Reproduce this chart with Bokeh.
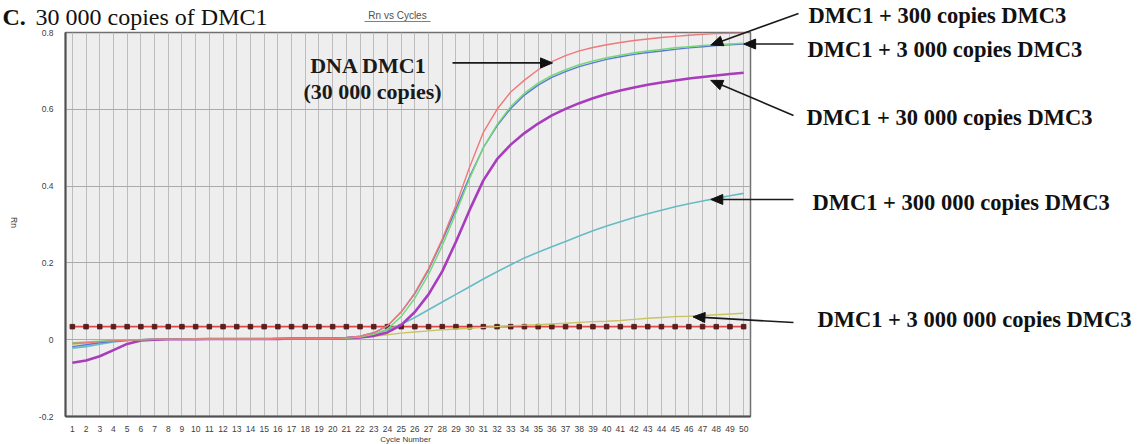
import math
import numpy as np
from bokeh.plotting import figure
from bokeh.models import FixedTicker, Range1d, CustomJSTickFormatter
from bokeh.core.properties import value
from bokeh.embed import file_html
from bokeh.resources import INLINE

# ---------------- data ----------------
cycles = list(range(1, 51))

dna_dmc1 = [-0.010, -0.008, -0.005, -0.003, -0.001, 0.000,
            0.001, 0.001, 0.001, 0.002, 0.002, 0.002, 0.002, 0.002, 0.002, 0.003, 0.003, 0.003, 0.003, 0.003,
            0.005, 0.009, 0.018, 0.036, 0.072, 0.122, 0.185, 0.262, 0.350, 0.450,
            0.540, 0.600, 0.645, 0.676, 0.703, 0.724, 0.740, 0.752, 0.761, 0.768,
            0.774, 0.779, 0.783, 0.787, 0.790, 0.793, 0.795, 0.797, 0.798, 0.799]

dmc3_300 = [-0.008, -0.006, -0.004, -0.002, -0.001, 0.000,
            0.001, 0.001, 0.001, 0.002, 0.002, 0.002, 0.002, 0.002, 0.002, 0.003, 0.003, 0.003, 0.003, 0.003,
            0.004, 0.007, 0.014, 0.028, 0.060, 0.108, 0.170, 0.245, 0.330, 0.420,
            0.500, 0.560, 0.607, 0.642, 0.668, 0.688, 0.703, 0.716, 0.726, 0.734,
            0.741, 0.747, 0.752, 0.756, 0.760, 0.763, 0.766, 0.768, 0.770, 0.772]

dmc3_3000 = [-0.018, -0.013, -0.008, -0.004, -0.002, 0.000,
             0.001, 0.001, 0.001, 0.002, 0.002, 0.002, 0.002, 0.002, 0.002, 0.003, 0.003, 0.003, 0.003, 0.003,
             0.005, 0.009, 0.018, 0.036, 0.072, 0.120, 0.182, 0.258, 0.340, 0.425,
             0.500, 0.557, 0.602, 0.637, 0.663, 0.683, 0.698, 0.711, 0.721, 0.730,
             0.737, 0.743, 0.748, 0.752, 0.756, 0.760, 0.763, 0.766, 0.768, 0.770]

dmc3_30000 = [-0.060, -0.054, -0.043, -0.027, -0.011, -0.002,
              0.000, 0.001, 0.001, 0.001, 0.002, 0.002, 0.002, 0.002, 0.002, 0.002, 0.003, 0.003, 0.003, 0.003,
              0.004, 0.006, 0.010, 0.019, 0.038, 0.072, 0.118, 0.178, 0.255, 0.338,
              0.415, 0.470, 0.508, 0.538, 0.563, 0.584, 0.601, 0.616, 0.629, 0.640,
              0.649, 0.657, 0.664, 0.670, 0.675, 0.680, 0.684, 0.688, 0.692, 0.695]

dmc3_300000 = [-0.022, -0.018, -0.012, -0.006, -0.002, 0.000,
               0.001, 0.001, 0.001, 0.002, 0.002, 0.002, 0.002, 0.002, 0.002, 0.003, 0.003, 0.003, 0.003, 0.003,
               0.004, 0.008, 0.015, 0.025, 0.040, 0.058, 0.078, 0.098, 0.118, 0.138,
               0.158, 0.177, 0.195, 0.213, 0.228, 0.242, 0.256, 0.270, 0.284, 0.296,
               0.307, 0.318, 0.328, 0.337, 0.346, 0.354, 0.361, 0.368, 0.375, 0.381]

dmc3_3000000 = [-0.012, -0.009, -0.006, -0.003, -0.001, 0.000,
                0.000, 0.001, 0.001, 0.001, 0.002, 0.002, 0.002, 0.002, 0.002, 0.002, 0.003, 0.003, 0.003, 0.003,
                0.004, 0.006, 0.009, 0.013, 0.017, 0.020, 0.023, 0.026, 0.028, 0.030,
                0.032, 0.034, 0.036, 0.038, 0.039, 0.041, 0.043, 0.045, 0.047, 0.048,
                0.050, 0.053, 0.056, 0.058, 0.060, 0.061, 0.063, 0.065, 0.067, 0.069]

threshold = 0.034

y_ticks = [-0.2, 0.0, 0.2, 0.4, 0.6, 0.8]

title_text = "Rn vs Cycles"
x_title = "Cycle Number"
y_title = "Rn"
panel_letter = "C."
panel_text = "30 000 copies of DMC1"
dna_label = ["DNA DMC1", "(30 000 copies)"]
mix_labels = ["DMC1 + 300 copies DMC3", "DMC1 + 3 000 copies DMC3",
              "DMC1 + 30 000 copies DMC3", "DMC1 + 300 000 copies DMC3",
              "DMC1 + 3 000 000 copies DMC3"]

# ---------------- figure ----------------
W, H = 1138, 444
FL, FT, FR, FB = 65, 32, 750, 416   # frame edges in canvas pixels
p = figure(width=W, height=H, output_backend="svg", toolbar_location=None,
           x_range=Range1d(0.5, 50.5), y_range=Range1d(-0.2, 0.8),
           min_border_left=FL, min_border_right=W - FR, min_border_top=FT,
           min_border_bottom=H - FB)
p.background_fill_color = "#eeeeee"
p.border_fill_color = "white"
p.outline_line_color = "#707070"
p.outline_line_width = 1.5

p.xgrid.ticker = FixedTicker(ticks=cycles)
p.xgrid.grid_line_color = "#bdbdbd"
p.xgrid.grid_line_width = 1
p.ygrid.ticker = FixedTicker(ticks=y_ticks)
p.ygrid.grid_line_color = "#aaaaaa"
p.ygrid.grid_line_width = 1

for ax in (p.xaxis[0], p.yaxis[0]):
    ax.axis_line_color = "#505050"
    ax.axis_line_width = 2
    ax.major_tick_out = 0
    ax.major_tick_in = 0
    ax.minor_tick_out = 0
    ax.minor_tick_in = 0
    ax.major_label_text_color = "#404040"
    ax.major_label_text_font = "Liberation Sans"

p.xaxis.ticker = FixedTicker(ticks=cycles)
p.xaxis.major_label_text_font_size = "8.5px"
p.xaxis.major_label_standoff = 9
p.yaxis.ticker = FixedTicker(ticks=y_ticks)
p.yaxis.formatter = CustomJSTickFormatter(
    code="return Math.abs(tick) < 1e-9 ? '0' : tick.toFixed(1);")
p.yaxis.major_label_text_font_size = "8.5px"
p.yaxis.major_label_standoff = 12

span_x = (FR - FL) / 50.0
span_y = (FB - FT) / 1.0


def dx(px):
    return 0.5 + (px - FL) / span_x


def dy(py):
    return 0.8 - (py - FT) / span_y


def dyb(baseline_px, fs):
    # text placed with baseline "middle": centre sits ~0.34 em above the baseline
    return dy(baseline_px - 0.34 * fs)


def to_px(c, v):
    return FL + (c - 0.5) * span_x, FT + (0.8 - v) * span_y


# threshold line
p.line(cycles, [threshold] * len(cycles), line_color="#e04848", line_width=1.6)
p.scatter(cycles, [threshold] * len(cycles), marker="square", size=4.5,
          fill_color="#5a2020", line_color="#5a2020")

series = [
    (dmc3_3000000, "#c8c464", 1.4),
    (dmc3_300000, "#66bcc4", 1.6),
    (dmc3_30000, "#a83cbc", 2.6),
    (dmc3_3000, "#5a78d8", 1.4),
    (dmc3_300, "#78d878", 1.5),
    (dna_dmc1, "#f07878", 1.4),
]
for ys, col, lw in series:
    p.line(cycles, ys, line_color=col, line_width=lw)

# ---------------- texts (overlay glyphs, not clipped to the frame) ----------------
OV = "overlay"
sans = value("Liberation Sans")
serif = value("Liberation Serif")

p.text(x=[dx(397)], y=[dyb(18.5, 10)], text=[title_text], text_align="center",
       text_baseline="middle", text_font=sans, text_font_size="10px",
       text_color="#505050", level=OV)
p.segment(x0=[dx(364)], y0=[dy(21)], x1=[dx(430)], y1=[dy(21)],
          line_color="#808080", line_width=1, level=OV)

p.text(x=[dx(405)], y=[dy(439)], text=[x_title], text_align="center",
       text_baseline="middle", text_font=sans, text_font_size="8px",
       text_color="#404040", level=OV)
p.text(x=[dx(13)], y=[dy(222)], text=[y_title], text_align="center",
       text_baseline="middle", text_font=sans, text_font_size="8.5px",
       text_color="#404040", angle=-math.pi / 2, level=OV)

p.text(x=[dx(2)], y=[dyb(25, 24)], text=[panel_letter], text_align="left",
       text_baseline="middle", text_font=serif, text_font_style="bold",
       text_font_size="24px", text_color="#111111", level=OV)
p.text(x=[dx(35)], y=[dyb(25, 24)], text=[panel_text], text_align="left",
       text_baseline="middle", text_font=serif, text_font_size="24px",
       text_color="#111111", level=OV)

p.text(x=[dx(368), dx(372)], y=[dyb(72, 22), dyb(98, 22)], text=dna_label,
       text_align="center", text_baseline="middle", text_font=serif,
       text_font_style="bold", text_font_size="22px", text_color="#1a1a1a",
       level=OV)

label_pos = [(808, 23), (807, 57), (806, 125), (812, 210), (817, 327)]
p.text(x=[dx(lx) for lx, _ in label_pos],
       y=[dyb(ly, 22.5) for _, ly in label_pos],
       text=mix_labels, text_align="left", text_baseline="middle",
       text_font=serif, text_font_style="bold", text_font_size="22.5px",
       text_color="#111111", level=OV)

# ---------------- arrows: tip on the curve (from data), tail in canvas pixels ----------------
arrow_specs = [
    (dmc3_300, 47.6, 0.0, 798, 13),
    (dmc3_3000, 50.0, 0.0, 793, None),
    (dmc3_30000, 47.6, -0.011, 793, 115),
    (dna_dmc1, 36.05, -0.004, 452, None),
    (dmc3_300000, 47.6, 0.0, 793, None),
    (dmc3_3000000, 46.3, -0.002, 793, 322),
]
HEAD_L, HEAD_W = 12.0, 5.0
sx0, sy0, sx1, sy1, hxs, hys = [], [], [], [], [], []
for ys, tip_c, off, tx, ty in arrow_specs:
    tip_v = float(np.interp(tip_c, cycles, ys)) + off
    tpx, tpy = to_px(tip_c, tip_v)
    spx, spy = tx, (tpy if ty is None else ty)
    ux, uy = tpx - spx, tpy - spy
    L = math.hypot(ux, uy)
    ux, uy = ux / L, uy / L
    bx, by = tpx - ux * HEAD_L, tpy - uy * HEAD_L
    nx, ny = -uy, ux
    sx0.append(dx(spx)); sy0.append(dy(spy))
    sx1.append(dx(bx + ux * 2)); sy1.append(dy(by + uy * 2))
    hxs.append([dx(tpx), dx(bx + nx * HEAD_W), dx(bx - nx * HEAD_W)])
    hys.append([dy(tpy), dy(by + ny * HEAD_W), dy(by - ny * HEAD_W)])

p.segment(x0=sx0, y0=sy0, x1=sx1, y1=sy1, line_color="#1a1a1a",
          line_width=1.6, level=OV)
p.patches(xs=hxs, ys=hys, fill_color="#111111", line_color="#111111",
          line_width=1, level=OV)

open("out.html", "w").write(file_html(p, INLINE))
